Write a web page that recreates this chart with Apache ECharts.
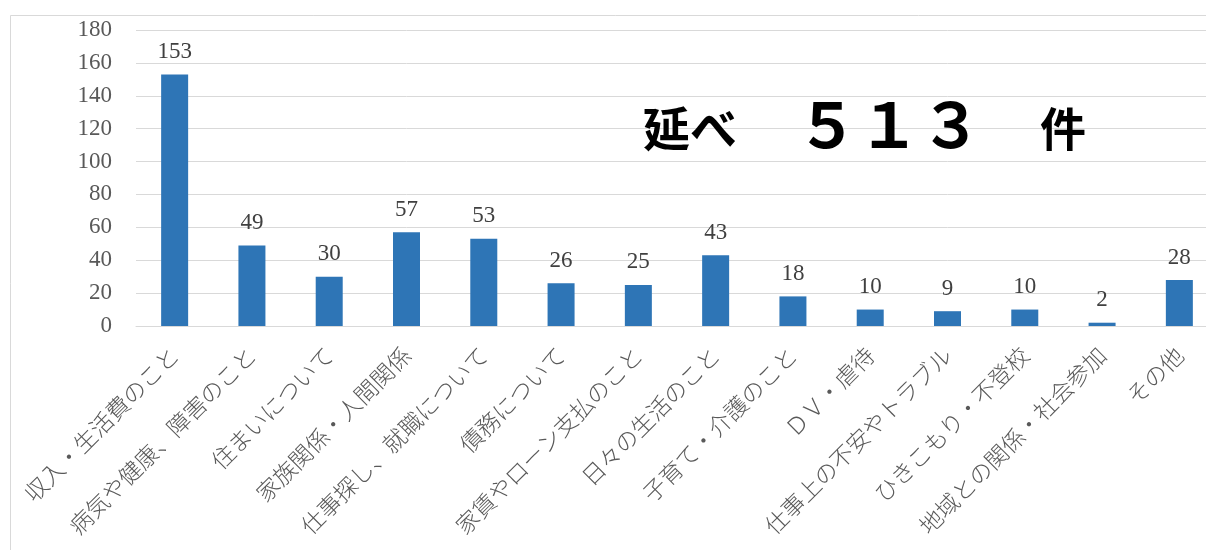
<!DOCTYPE html>
<html>
<head>
<meta charset="utf-8">
<script src="https://cdn.jsdelivr.net/npm/echarts@6/dist/echarts.min.js"></script>
<style>
  html, body { margin: 0; padding: 0; background: #fff; overflow: hidden; }
  #chart { width: 1220px; height: 550px; }
</style>
</head>
<body>
<div id="chart"></div>
<script>
// 相談内容の内訳（件数）
const categories = [
  '収入・生活費のこと',
  '病気や健康、障害のこと',
  '住まいについて',
  '家族関係・人間関係',
  '仕事探し、就職について',
  '債務について',
  '家賃やローン支払のこと',
  '日々の生活のこと',
  '子育て・介護のこと',
  'ＤＶ・虐待',
  '仕事上の不安やトラブル',
  'ひきこもり・不登校',
  '地域との関係・社会参加',
  'その他'
];
const counts = [153, 49, 30, 57, 53, 26, 25, 43, 18, 10, 9, 10, 2, 28];
const totalText = '５１３';

const serif = '"Liberation Serif", "DejaVu Serif", serif';
const cjk = '"Noto Sans CJK JP", sans-serif';

const chart = echarts.init(document.getElementById('chart'));
chart.setOption({
  animation: false,
  backgroundColor: '#ffffff',
  grid: { left: 136, right: 2, top: 30, bottom: 224, containLabel: false },
  graphic: [
    {
      type: 'rect',
      shape: { x: 10.5, y: 15.5, width: 1300, height: 600 },
      style: { fill: 'none', stroke: '#d9d9d9', lineWidth: 1 },
      z: 0
    },
    {
      type: 'text', x: 643, y: 128, z: 10,
      style: { text: '延べ', font: 'bold 47px ' + cjk, fill: '#000', verticalAlign: 'middle', align: 'left' }
    },
    {
      type: 'text', x: 796, y: 124, z: 10,
      style: { text: totalText, font: 'bold 62px ' + cjk, fill: '#000', verticalAlign: 'middle', align: 'left' }
    },
    {
      type: 'text', x: 1040, y: 129, z: 10,
      style: { text: '件', font: 'bold 46px ' + cjk, fill: '#000', verticalAlign: 'middle', align: 'left' }
    }
  ],
  xAxis: {
    type: 'category',
    data: categories,
    axisLine: { lineStyle: { color: '#d9d9d9', width: 1 } },
    axisTick: { show: false },
    axisLabel: {
      interval: 0,
      rotate: 45,
      margin: 25,
      color: '#595959',
      fontFamily: cjk,
      fontWeight: 300,
      fontSize: 23
    }
  },
  yAxis: {
    type: 'value',
    min: 0,
    max: 180,
    interval: 20,
    axisLine: { show: false },
    axisTick: { show: false },
    splitLine: { lineStyle: { color: '#d9d9d9', width: 1 } },
    axisLabel: {
      color: '#595959',
      fontFamily: serif,
      fontSize: 23,
      margin: 24
    }
  },
  series: [{
    type: 'bar',
    data: counts,
    barWidth: 27,
    itemStyle: { color: '#2E75B6' },
    label: {
      show: true,
      position: 'top',
      distance: 11,
      color: '#404040',
      fontFamily: serif,
      fontSize: 23
    }
  }]
});
</script>
</body>
</html>
